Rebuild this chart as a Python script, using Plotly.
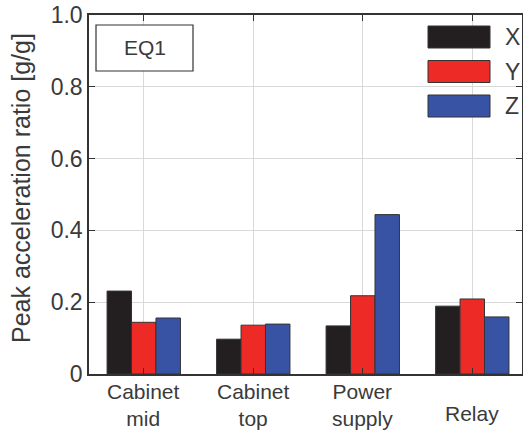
import plotly.graph_objects as go

categories = ["Cabinet<br>mid", "Cabinet<br>top", "Power<br>supply", "Relay"]
series_names = ["X", "Y", "Z"]
x_values = [0.231, 0.097, 0.134, 0.189]
y_values = [0.144, 0.136, 0.218, 0.209]
z_values = [0.156, 0.139, 0.444, 0.159]
y_tick_vals = [0, 0.2, 0.4, 0.6, 0.8, 1.0]
y_tick_text = ["0", "0.2", "0.4", "0.6", "0.8", "1.0"]
colors = ["#231f20", "#ee2a27", "#3953a4"]

FONT = "Liberation Sans"
TXT = "#3a3a3a"

fig = go.Figure()
for name, vals, col in zip(series_names, [x_values, y_values, z_values], colors):
    fig.add_trace(go.Bar(
        x=list(range(len(categories))), y=vals, name=name,
        marker=dict(color=col, line=dict(color="#333333", width=1)),
        showlegend=False, hoverinfo="skip",
    ))

W, H = 523, 433
L, R, T, B = 89, 1, 15, 59
pw, ph = W - L - R, H - T - B

def px_x(p):
    return (p - L) / pw

def px_y(p):
    return 1 - (p - T) / ph

fig.update_layout(
    template="none",
    width=W, height=H,
    margin=dict(l=L, r=R, t=T, b=B, pad=0, autoexpand=False),
    plot_bgcolor="white", paper_bgcolor="white",
    barmode="group", bargap=0.33, bargroupgap=0,
    font=dict(family=FONT, color=TXT, size=21),
    showlegend=False,
    xaxis=dict(
        range=[-0.5, 3.454], tickvals=list(range(len(categories))),
        ticktext=["" for _ in categories], automargin=False,
        showgrid=True, gridcolor="#d9d9d9", gridwidth=1,
        ticks="inside", ticklen=6, tickcolor="#333333",
        showline=True, linecolor="#333333", linewidth=2, mirror="ticks",
        zeroline=False,
    ),
    yaxis=dict(
        range=[0, 1.0], tickvals=y_tick_vals, ticktext=y_tick_text,
        automargin=False,
        showgrid=True, gridcolor="#d9d9d9", gridwidth=1,
        ticks="inside", ticklen=6, tickcolor="#333333",
        showline=True, linecolor="#333333", linewidth=1.5, mirror="ticks",
        zeroline=False, tickfont=dict(size=23, color=TXT),
    ),
)

# x category labels
for i, c in enumerate(categories):
    two = "<br>" in c
    fig.add_annotation(
        x=i, xref="x", y=0, yref="paper", yanchor="top", xanchor="center",
        yshift=-4 if two else -26, text=c, showarrow=False,
        font=dict(size=21, color=TXT, family=FONT),
    )

# y title
fig.add_annotation(
    x=px_x(21), xref="paper", y=px_y(188), yref="paper",
    text="Peak acceleration ratio [g/g]", textangle=-90, showarrow=False,
    font=dict(size=25, color=TXT, family=FONT), xanchor="center", yanchor="middle",
)

# EQ1 box
fig.add_shape(type="rect", xref="paper", yref="paper",
              x0=px_x(96), x1=px_x(193), y0=px_y(71), y1=px_y(25),
              line=dict(color="#333333", width=1.2), fillcolor="white")
fig.add_annotation(x=px_x(144.5), xref="paper", y=px_y(48), yref="paper",
                   text="EQ1", showarrow=False, xanchor="center", yanchor="middle",
                   font=dict(size=21, color=TXT, family=FONT))

# legend
for k, (name, col) in enumerate(zip(series_names, colors)):
    cy = 37 + k * 34.5
    fig.add_shape(type="rect", xref="paper", yref="paper",
                  x0=px_x(428), x1=px_x(490), y0=px_y(cy + 11), y1=px_y(cy - 11),
                  line=dict(color="#333333", width=1), fillcolor=col)
    fig.add_annotation(x=px_x(503), xref="paper", y=px_y(cy), yref="paper",
                       text=name, showarrow=False, xanchor="left", yanchor="middle",
                       font=dict(size=23, color=TXT, family=FONT))

fig.write_html(
    "out.html",
    config={"displayModeBar": False},
    post_script="document.body.style.margin='0';document.body.style.overflow='hidden';",
)
